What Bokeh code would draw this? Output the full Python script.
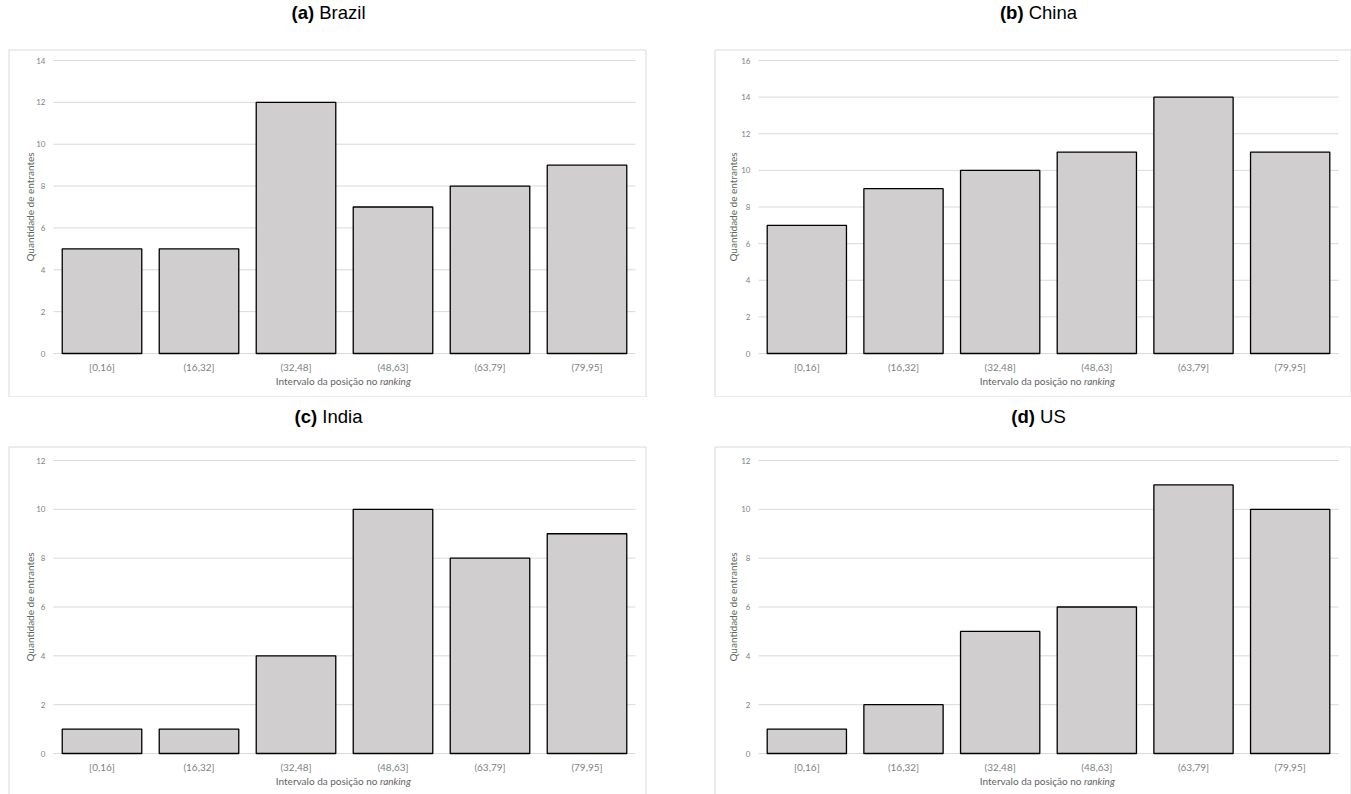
from math import pi

from bokeh.plotting import figure
from bokeh.models import Label, BoxAnnotation, Range1d
from bokeh.core.properties import value
from bokeh.layouts import column, row
from bokeh.embed import file_html
from bokeh.resources import INLINE

# Ranking intervals (x categories)
intervals = ["[0,16]", "(16,32]", "(32,48]", "(48,63]", "(63,79]", "(79,95]"]

# Number of entrants per ranking interval
brazil = [5, 5, 12, 7, 8, 9]
china = [7, 9, 10, 11, 14, 11]
india = [1, 1, 4, 10, 8, 9]
us = [1, 2, 5, 6, 11, 10]

# Upper limit of each value axis (ticks every 2)
y_max_brazil = 14
y_max_china = 16
y_max_india = 12
y_max_us = 12
tick_step = 2

FONT = "Lato"
CAP_FONT = "Liberation Sans"
TICK_COLOR = "#7f7f7f"
TITLE_COLOR = "#636363"
GRID = "#d9d9d9"
BAR_FILL = "#d0cece"

# approximate advance widths (em) of the caption pieces, for centring
CAP_EM = {"(a)": 1.222, "(b)": 1.277, "(c)": 1.222, "(d)": 1.277,
          "Brazil": 2.50, "China": 2.612, "India": 2.168, "US": 1.389}
CAP_SIZE = 18.5


def panel(tag, name, counts, y_max, W, H, frame, box, cap_x, cap_y, ylab_dx):
    """frame / box: (left, top, right, bottom) in canvas pixels."""
    fl, ft, fr, fb = frame
    n = len(intervals)
    kx = (fr - fl) / n
    ky = (fb - ft) / y_max
    p = figure(width=W, height=H, output_backend="svg", toolbar_location=None,
               x_range=Range1d(-fl / kx, n + (W - fr) / kx),
               y_range=Range1d(-(H - fb) / ky, y_max + ft / ky),
               x_axis_location=None, y_axis_location=None, min_border=0,
               outline_line_color=None, background_fill_color="white",
               border_fill_color="white")
    p.grid.visible = False

    xs = [i + 0.5 for i in range(n)]
    ticks = list(range(0, y_max + 1, tick_step))

    # horizontal grid lines across the plotting area
    p.segment(x0=[0] * len(ticks), x1=[n] * len(ticks), y0=ticks, y1=ticks,
              line_color=GRID, line_width=1)

    # bars
    p.vbar(x=xs, top=counts, bottom=0, width=0.82, fill_color=BAR_FILL,
           line_color="black", line_width=1.3)

    # value tick labels
    p.text(x=[0] * len(ticks), y=ticks, text=[str(t) for t in ticks],
           x_offset=-8, text_align="right", text_baseline="middle",
           text_font=value(FONT), text_font_size="8px",
           text_color=TICK_COLOR)

    # category labels
    p.text(x=xs, y=[0] * n, text=intervals, y_offset=13,
           text_align="center", text_baseline="middle",
           text_font=value(FONT), text_font_size="10px",
           text_color=TICK_COLOR)

    def label(x, y, text, **kw):
        opts = dict(text_font=FONT, text_font_size="10px",
                    text_color=TITLE_COLOR, text_baseline="middle")
        opts.update(kw)
        p.add_layout(Label(x=x, y=H - y, x_units="screen", y_units="screen",
                           text=text, **opts))

    # chart border
    bl, bt, br, bb = box
    p.add_layout(BoxAnnotation(left=bl, right=br, top=H - bt, bottom=H - bb,
                               left_units="screen", right_units="screen",
                               top_units="screen", bottom_units="screen",
                               fill_alpha=0, line_color=GRID, line_alpha=1,
                               line_width=1))

    # value axis title
    label(fl + ylab_dx, (ft + fb) / 2, "Quantidade de entrantes",
          angle=pi / 2, text_align="center")

    # category axis title, last word in italics
    cx = (fl + fr) / 2
    ty = fb + 27
    label(cx + 33, ty, "Intervalo da posição no", text_align="right")
    label(cx + 35.5, ty, "ranking", text_align="left",
          text_font_style="italic")

    # sub-caption: bold tag followed by the country name
    tw = CAP_EM[f"({tag})"] * CAP_SIZE
    total = tw + (0.278 + CAP_EM[name]) * CAP_SIZE
    split = cap_x - total / 2 + tw
    label(split, cap_y, f"({tag})", text_font=CAP_FONT,
          text_font_style="bold", text_font_size=f"{CAP_SIZE}px",
          text_color="black", text_align="right")
    label(split + 0.278 * CAP_SIZE, cap_y, name, text_font=CAP_FONT,
          text_font_size=f"{CAP_SIZE}px", text_color="black",
          text_align="left")
    return p


pa = panel("a", "Brazil", brazil, y_max_brazil, 675, 397,
           frame=(53, 60, 635, 353), box=(8.5, 49.5, 645.5, 396.5),
           cap_x=328, cap_y=12, ylab_dx=-23.5)
pb = panel("b", "China", china, y_max_china, 676, 397,
           frame=(83, 60, 663, 353), box=(39.5, 49.5, 675.5, 396.5),
           cap_x=363, cap_y=12, ylab_dx=-25.5)
pc = panel("c", "India", india, y_max_india, 675, 397,
           frame=(53, 63, 635, 356), box=(8.5, 49.5, 645.5, 420),
           cap_x=328, cap_y=19, ylab_dx=-23.5)
pd = panel("d", "US", us, y_max_us, 676, 397,
           frame=(83, 63, 663, 356), box=(39.5, 49.5, 675.5, 420),
           cap_x=363, cap_y=19, ylab_dx=-25.5)

layout = column(row(pa, pb, spacing=0), row(pc, pd, spacing=0), spacing=0)

with open("out.html", "w") as f:
    f.write(file_html(layout, INLINE))
